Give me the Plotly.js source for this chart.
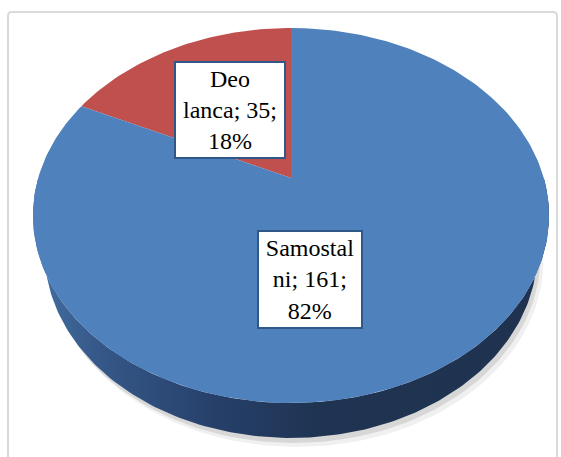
<!DOCTYPE html>
<html>
<head>
<meta charset="utf-8">
<script src="https://cdn.plot.ly/plotly-3.0.1.min.js"></script>
<style>html,body{margin:0;padding:0;background:#fff;}#chart{width:561px;height:457px;}</style>
</head>
<body>
<div id="chart"></div>
<script>
// ---- data ----
const categories = ["Deo lanca", "Samostalni"];
const values = [35, 161];
const labelLines = [["Deo", "lanca"], ["Samostal", "ni"]]; // wrapped names as shown

// ---- styling / view geometry ----
const topColors = ["#c0504d", "#4f81bd"];
const TILT = 45.4 * Math.PI / 180;
const C = Math.cos(TILT), S = Math.sin(TILT);
const D = 5 * C, F = 1264 * C, CX = 291, CY = 178, H = 0.224;

function proj(phi, yh) {
  const x = Math.cos(phi), z = Math.sin(phi), y = yh;
  const u = y * C + z * S;
  const d = D + z * C - y * S;
  return [CX + F * x / d, CY - F * u / d];
}
function rim(a0, a1, yh, n) {
  const xs = [], ys = [];
  for (let i = 0; i <= n; i++) {
    const p = proj(a0 + (a1 - a0) * i / n, yh);
    xs.push(p[0]); ys.push(p[1]);
  }
  return [xs, ys];
}

const total = values.reduce((a, b) => a + b, 0);
const traces = [];

// soft shadow
[[6, 9, 'rgba(0,0,0,0.06)'], [3, 5, 'rgba(0,0,0,0.10)']].forEach(([ox, oy, col]) => {
  const r = rim(Math.PI, 2 * Math.PI, -H, 120);
  const t = rim(2 * Math.PI, Math.PI, 0, 120);
  traces.push({
    type: 'scatter', mode: 'lines', fill: 'toself', fillcolor: col,
    x: r[0].map(v => v + ox).concat(t[0]), y: r[1].map(v => v + oy).concat(t[1]),
    line: {width: 0}, hoverinfo: 'skip'
  });
});

// side wall (front half)
{
  const t = rim(Math.PI, 2 * Math.PI, 0, 200);
  const b = rim(2 * Math.PI, Math.PI, -H, 200);
  traces.push({
    type: 'scatter', mode: 'lines', fill: 'toself',
    x: t[0].concat(b[0]), y: t[1].concat(b[1]),
    line: {width: 0},
    fillgradient: {type: 'horizontal',
      colorscale: [[0, '#4470a3'], [0.12, '#36598a'], [0.35, '#26406a'], [0.55, '#1f3452'], [1, '#1f3350']]},
    hoverinfo: 'skip'
  });
}

// top face slices
let start = Math.PI / 2;
const annotations = [];
values.forEach((v, i) => {
  const sweep = 2 * Math.PI * v / total;
  const r = rim(start, start + sweep, 0, Math.max(20, Math.round(300 * v / total)));
  traces.push({
    type: 'scatter', mode: 'lines', fill: 'toself', fillcolor: topColors[i],
    x: [CX].concat(r[0], [CX]), y: [CY].concat(r[1], [CY]),
    line: {width: 0, color: topColors[i]}, name: categories[i], hoverinfo: 'skip'
  });
  start += sweep;
});

const labelPos = [[229.5, 110], [310, 279]];
const labelSize = [[106, 92], [100, 93]];
values.forEach((v, i) => {
  const pct = Math.round(100 * v / total);
  annotations.push({
    x: labelPos[i][0], y: labelPos[i][1], xref: 'x', yref: 'y',
    text: labelLines[i][0] + '<br>' + labelLines[i][1] + '; ' + v + ';<br>' + pct + '%',
    showarrow: false, align: 'center', valign: 'middle',
    width: labelSize[i][0], height: labelSize[i][1],
    bgcolor: '#ffffff', bordercolor: '#2f5787', borderwidth: 2, borderpad: 1,
    font: {family: "'Liberation Serif', 'Times New Roman', 'DejaVu Serif', serif", size: 24, color: '#000000'}
  });
});

const layout = {
  width: 561, height: 457,
  margin: {l: 0, r: 0, t: 0, b: 0},
  paper_bgcolor: '#ffffff', plot_bgcolor: '#ffffff',
  showlegend: false, hovermode: false,
  font: {family: "'Liberation Serif', serif"},
  xaxis: {range: [0, 561], visible: false, fixedrange: true},
  yaxis: {range: [457, 0], visible: false, fixedrange: true},
  annotations: annotations,
  shapes: [{
    type: 'path', xref: 'x', yref: 'y', layer: 'below',
    path: 'M 8,470 L 8,16 Q 8,12 12,12 L 553,12 Q 557,12 557,16 L 557,470',
    line: {color: '#d9d9d9', width: 2}
  }]
};

Plotly.newPlot('chart', traces, layout, {staticPlot: true, displayModeBar: false});
</script>
</body>
</html>
